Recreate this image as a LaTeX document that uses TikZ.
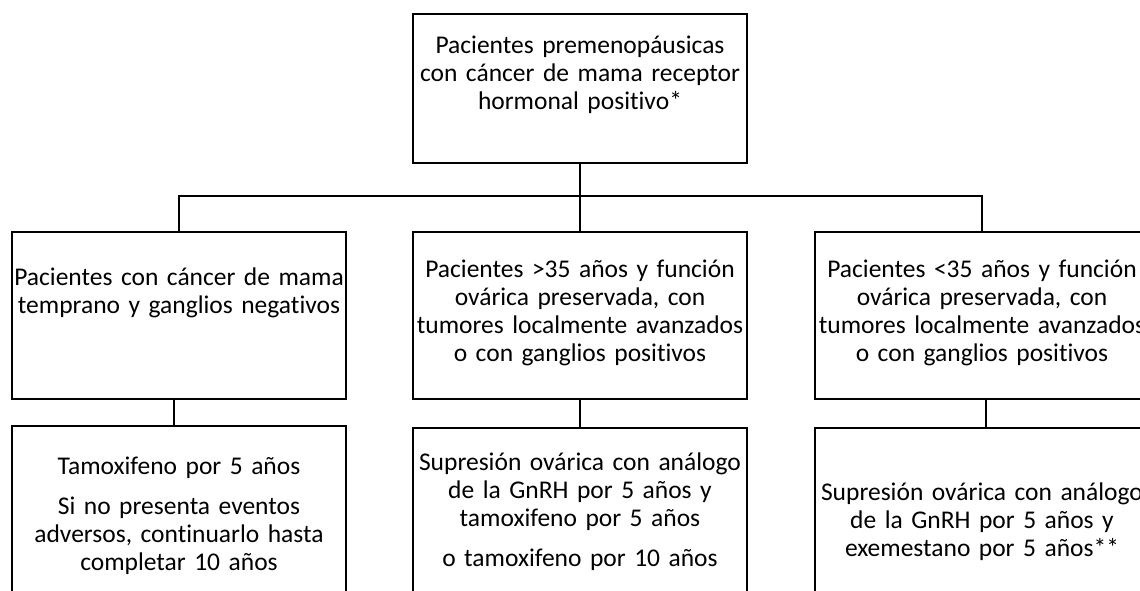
\documentclass[tikz,border=0pt]{standalone}
\usepackage{fontspec}
\setmainfont{Carlito}[Ligatures=NoCommon]
\tikzset{
  caja/.style={draw, line width=2pt, inner xsep=-15pt, inner ysep=0pt,
    text width=364pt, align=center, anchor=north},
  every node/.style={font=\fontsize{25.5}{28}\selectfont, text=black},
}
\begin{document}
\begin{tikzpicture}[x=1pt, y=-1pt, line width=2pt]
\useasboundingbox (0,0) rectangle (1140,590);
\clip (0,0) rectangle (1140,590);

\node[caja, text height=39pt, text depth=110pt] (arriba) at (580,13)
  {Pacientes premenopáusicas\\con cáncer de mama receptor\\hormonal positivo*};

\node[caja, text height=53pt, text depth=114pt] (izq) at (179,231)
  {Pacientes con cáncer de mama\\temprano y ganglios negativos};
\node[caja, text height=45pt, text depth=122pt] (centro) at (580,231)
  {Pacientes >35 años y función\\ovárica preservada, con\\tumores localmente avanzados\\o con ganglios positivos};
\node[caja, text height=45pt, text depth=122pt] (der) at (982,231)
  {Pacientes <35 años y función\\ovárica preservada, con\\tumores localmente avanzados\\o con ganglios positivos};

\node[caja, text height=48pt, text depth=147pt] (trat1) at (179,425)
  {Tamoxifeno por 5 años\\[12pt]Si no presenta eventos\\adversos, continuarlo hasta\\completar 10 años};
\node[caja, text height=42pt, text depth=151pt] (trat2) at (580,427)
  {Supresión ovárica con análogo\\de la GnRH por 5 años y\\tamoxifeno por 5 años\\[12pt]o tamoxifeno por 10 años};
\node[caja, text height=72pt, text depth=121pt] (trat3) at (982,427)
  {Supresión ovárica con análogo\\de la GnRH por 5 años y\\exemestano por 5 años**};

\coordinate (rama) at (580,196);
\draw (arriba) -- (rama);
\draw (izq.north) |- (rama) -| (der.north);
\draw (rama) -- (centro);

\draw ([xshift=-5pt]izq.south) -- ([xshift=-5pt]trat1.north);
\draw (centro) -- (trat2);
\draw ([xshift=4pt]der.south) -- ([xshift=4pt]trat3.north);
\end{tikzpicture}
\end{document}
